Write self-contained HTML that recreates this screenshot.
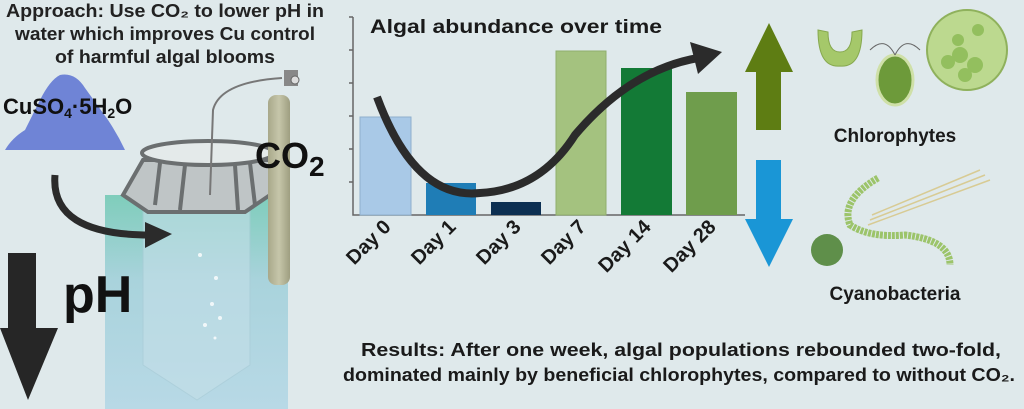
<!DOCTYPE html>
<html><head><meta charset="utf-8"><style>
html,body{margin:0;padding:0;background:#dfe9eb;}
svg{display:block;font-family:"Liberation Sans",sans-serif;font-weight:bold;}
</style></head><body>
<svg width="1024" height="409" viewBox="0 0 1024 409" xmlns="http://www.w3.org/2000/svg">
<defs>
<linearGradient id="w" x1="0" y1="0" x2="0" y2="1"><stop offset="0" stop-color="#7fcdbb"/><stop offset="0.4" stop-color="#a9d3dc"/><stop offset="1" stop-color="#b8d9e6"/></linearGradient>
<linearGradient id="cyl" x1="0" y1="0" x2="1" y2="0"><stop offset="0" stop-color="#a8a88a"/><stop offset="0.5" stop-color="#c6c6aa"/><stop offset="1" stop-color="#9e9e80"/></linearGradient>
</defs>
<rect width="1024" height="409" fill="#dfe9eb"/>
<!-- title -->
<g font-size="18" fill="#222" text-anchor="middle">
<text x="165" y="17" textLength="318" lengthAdjust="spacingAndGlyphs">Approach: Use CO₂ to lower pH in</text>
<text x="165" y="40" textLength="300" lengthAdjust="spacingAndGlyphs">water which improves Cu control</text>
<text x="165" y="63" textLength="220" lengthAdjust="spacingAndGlyphs">of harmful algal blooms</text>
</g>
<!-- powder -->
<path d="M5,150 Q12,138 25,130 L40,100 Q50,80 60,75 Q75,72 85,88 L108,120 Q118,135 125,150 Z" fill="#6f84d6"/>
<text x="3" y="114" font-size="22" fill="#111">CuSO<tspan font-size="14" dy="4">4</tspan><tspan dy="-4">·5H</tspan><tspan font-size="14" dy="4">2</tspan><tspan dy="-4">O</tspan></text>
<!-- beaker -->
<rect x="105" y="195" width="183" height="214" fill="url(#w)"/>
<path d="M143,210 L250,210 L250,365 L197,400 L143,365 Z" fill="#c4dfe8" opacity="0.6" stroke="#a9cbd6"/>
<g fill="#fff" opacity="0.8"><circle cx="200" cy="255" r="2"/><circle cx="216" cy="278" r="2"/><circle cx="212" cy="304" r="2"/><circle cx="220" cy="318" r="2"/><circle cx="205" cy="325" r="2"/><circle cx="215" cy="338" r="1.5"/></g>
<!-- frame -->
<path d="M123,195 L143,160 L273,160 L270,195 L245,212 L148,212 Z" fill="#bfc5c6" stroke="#6b6f70" stroke-width="4"/>
<ellipse cx="208" cy="153" rx="66" ry="12" fill="#e4eaea" stroke="#6b6f70" stroke-width="4"/>
<path d="M160,163 L155,205 M250,163 L255,205 M185,165 L180,210 M235,165 L238,210" stroke="#6b6f70" stroke-width="4"/>
<!-- tube -->
<path d="M210,195 L213,110 Q220,82 282,78" fill="none" stroke="#777" stroke-width="2"/>
<!-- cylinder -->
<rect x="268" y="95" width="22" height="190" rx="8" fill="url(#cyl)"/>
<rect x="284" y="70" width="14" height="16" fill="#888"/>
<circle cx="295" cy="80" r="4" fill="#ddd" stroke="#666"/>
<text x="255" y="168" font-size="36" fill="#111">CO<tspan font-size="28" dy="8">2</tspan></text>
<!-- curved arrow -->
<path d="M55,175 Q50,235 150,235" fill="none" stroke="#2b2b2b" stroke-width="7"/>
<path d="M145,222 L172,234 L145,248 Z" fill="#2b2b2b"/>
<!-- pH -->
<path d="M8,253 L36,253 L36,328 L58,328 L28,400 L0,328 L8,328 Z" fill="#262626"/>
<text x="63" y="312" font-size="52" fill="#111">pH</text>
<!-- chart -->
<g stroke="#666" stroke-width="1.5" fill="none">
<path d="M353,17 L353,215 L745,215"/>
<path d="M349,17 H353 M349,50 H353 M349,83 H353 M349,116 H353 M349,149 H353 M349,182 H353"/>
</g>
<text x="370" y="33" font-size="19" fill="#1a1a1a" textLength="292" lengthAdjust="spacingAndGlyphs">Algal abundance over time</text>
<rect x="360" y="117" width="51" height="98" fill="#a9c9e7" stroke="#8fb0cc"/>
<rect x="426" y="183" width="50" height="32" fill="#1f7db6"/>
<rect x="491" y="202" width="50" height="13" fill="#0c2f52"/>
<rect x="556" y="51" width="50" height="164" fill="#a4c27f" stroke="#8fae6c"/>
<rect x="621" y="68" width="51" height="147" fill="#137a36"/>
<rect x="686" y="92" width="51" height="123" fill="#6f9d4c"/>
<path d="M377,97 Q415,200 480,193 Q540,190 575,135 Q630,70 698,58" fill="none" stroke="#2b2b2b" stroke-width="8"/>
<path d="M690,42 L722,52 L698,74 Z" fill="#2b2b2b"/>
<g font-size="20" fill="#1a1a1a" text-anchor="end">
<text transform="translate(392,228) rotate(-45)">Day 0</text>
<text transform="translate(457,228) rotate(-45)">Day 1</text>
<text transform="translate(522,228) rotate(-45)">Day 3</text>
<text transform="translate(587,228) rotate(-45)">Day 7</text>
<text transform="translate(652,228) rotate(-45)">Day 14</text>
<text transform="translate(717,228) rotate(-45)">Day 28</text>
</g>
<!-- up/down arrows -->
<path d="M756,130 L781,130 L781,72 L793,72 L769,23 L745,72 L756,72 Z" fill="#5e7d13"/>
<path d="M756,160 L781,160 L781,219 L793,219 L769,267 L745,219 L756,219 Z" fill="#1a96d6"/>
<!-- chlorophytes -->
<path d="M818,30 Q818,68 840,66 Q862,68 862,30 L852,32 Q852,52 840,52 Q828,52 828,32 Z" fill="#a5c86a" stroke="#86a84e"/>
<ellipse cx="895" cy="80" rx="18" ry="25" fill="#6d9a3a" stroke="#cfe0a8" stroke-width="3"/>
<path d="M895,55 Q885,35 870,50 M895,55 Q905,35 920,50" stroke="#666" fill="none"/>
<circle cx="967" cy="50" r="40" fill="#bcd98f" stroke="#8fb15c" stroke-width="2"/>
<g fill="#93bf5e"><circle cx="960" cy="55" r="8"/><circle cx="975" cy="65" r="8"/><circle cx="948" cy="62" r="7"/><circle cx="965" cy="75" r="7"/><circle cx="978" cy="30" r="6"/><circle cx="958" cy="40" r="6"/></g>
<text x="895" y="142" font-size="19" fill="#1a1a1a" text-anchor="middle">Chlorophytes</text>
<!-- cyanobacteria -->
<path d="M878,178 Q840,200 850,225 Q870,238 905,235 Q950,240 950,265" fill="none" stroke="#9cc46a" stroke-width="7" stroke-dasharray="3 1"/>
<path d="M870,220 L985,175 M872,215 L980,170 M868,225 L990,180" stroke="#d8cb94" stroke-width="1.5"/>
<circle cx="827" cy="250" r="16" fill="#5f8f4a"/>
<text x="895" y="300" font-size="19" fill="#1a1a1a" text-anchor="middle">Cyanobacteria</text>
<!-- results -->
<g font-size="18.5" fill="#1a1a1a" text-anchor="middle">
<text x="681" y="356" textLength="640" lengthAdjust="spacingAndGlyphs">Results: After one week, algal populations rebounded two-fold,</text>
<text x="679" y="381" textLength="672" lengthAdjust="spacingAndGlyphs">dominated mainly by beneficial chlorophytes, compared to without CO₂.</text>
</g>
</svg>
</body></html>
